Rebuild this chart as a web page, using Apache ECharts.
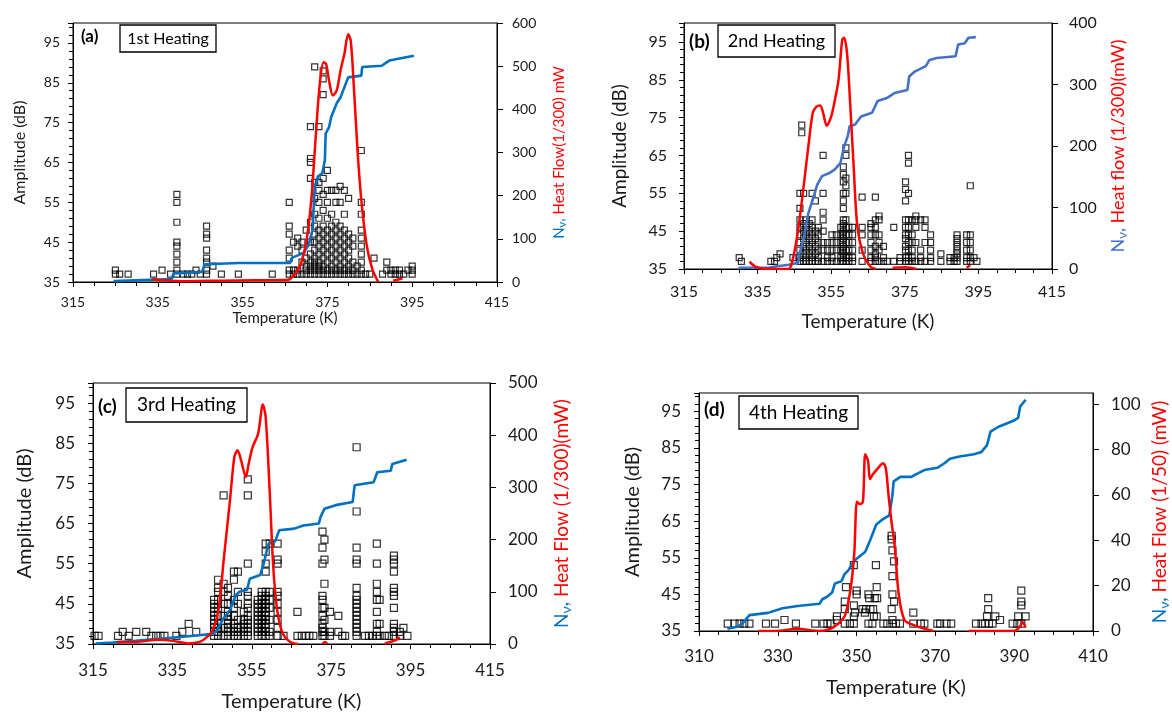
<!DOCTYPE html>
<html>
<head>
<meta charset="utf-8">
<script src="https://cdn.jsdelivr.net/npm/echarts@6/dist/echarts.min.js"></script>
<style>
  html, body { margin: 0; background: #fff; }
  #chart { width: 1172px; height: 713px; }
</style>
</head>
<body>
<div id="chart"></div>
<script>
// Scatter: [temperature, [amplitudes at that temperature]]
const scatterA = [
  [325, [37, 38]], [326, [37]], [328, [37]], [334, [37]], [336, [38]], [338, [37]],
  [339.5, [37, 38, 40, 42, 44, 45, 50, 55, 57]], [341, [37]], [342, [37]], [343, [37]], [344, [38]], [345, [37]],
  [346.5, [37, 38, 40, 41, 43, 46, 47, 49]], [348, [39]], [350, [37]], [354, [37]], [362, [37]],
  [366, [37, 38, 41, 43, 47, 49, 55]], [367, [37, 38, 45]], [368, [37, 38, 44, 46]], [369, [37, 40, 43, 45]],
  [370, [37, 38, 39, 41, 48]], [371, [37, 38, 39, 40, 42, 45, 50, 61, 65, 66, 74]],
  [372, [37, 38, 39, 40, 41, 43, 45, 47, 49, 52, 56, 60, 89]],
  [373, [37, 38, 39, 40, 42, 44, 46, 48, 51, 55, 58, 60, 74]],
  [374, [37, 38, 39, 41, 43, 45, 47, 49, 53, 57, 61, 82, 86, 88]],
  [375, [37, 38, 40, 42, 44, 46, 48, 51, 55, 58, 63]],
  [376, [37, 38, 39, 41, 43, 45, 47, 49, 52, 58]],
  [377, [37, 38, 40, 42, 44, 46, 48, 50, 55, 58]],
  [378, [37, 38, 39, 41, 43, 45, 47, 49, 55, 59]],
  [379, [37, 38, 40, 42, 44, 46, 48, 52, 58]],
  [380, [37, 38, 39, 41, 43, 45, 47, 56]], [381, [37, 38, 40, 44, 46]], [382, [37, 39]],
  [383, [37, 38, 40, 42, 44, 46, 48, 52, 55, 68]], [384, [37]], [385, [37]], [386, [41]],
  [388, [37]], [389, [38, 40]], [390, [37, 38]], [391, [37, 38]], [392, [37, 38]], [393, [37]],
  [394, [38]], [395, [37, 38, 39]]
];
const scatterB = [
  [330, [38]], [330.6, [37]], [338.6, [37]], [339.6, [37]], [340.2, [38]], [341.1, [39]], [344.6, [38]],
  [346.5, [37, 38, 40, 42, 44, 46, 48, 51, 55]], [347, [71, 73]], [347.5, [37, 39, 41, 43, 45, 47, 55]],
  [348.2, [37, 38, 40, 42, 44, 46, 48]], [349, [37, 39, 41, 43, 45, 47]], [349.8, [37, 38, 40, 42, 44, 46, 48, 55]],
  [350.7, [37, 39, 41, 43, 45, 53]], [351.5, [37, 38, 40, 42, 44, 46]], [352.8, [37, 40, 42, 45, 48, 50, 55, 65]],
  [354, [37, 38, 40, 42]], [355.2, [37, 38, 40, 42, 44]], [356.4, [37, 40, 42, 44]],
  [357.6, [37, 38, 40, 42, 44, 46]], [358.3, [37, 38, 39, 40, 41, 42, 43, 44, 45, 46, 47, 48, 51, 53, 55, 58, 60, 62]],
  [359, [37, 38, 40, 42, 44, 46, 48, 55, 57, 59, 65, 67]], [359.8, [37, 38, 40, 42, 44, 46]],
  [360.8, [37, 38, 40, 42, 44, 46]], [363.4, [37, 40, 44, 46, 54]], [365.8, [37, 38, 40, 42, 44, 46, 47]],
  [367, [37, 38, 39, 41, 44, 46, 48, 54]], [368, [37, 40, 42, 44, 48, 49]], [369.2, [37, 38, 41]], [370.2, [37]],
  [372, [37, 46]], [373.7, [37, 38]], [375.2, [37, 38, 40, 41, 43, 44, 46, 48, 53, 56, 58]],
  [376, [37, 38, 40, 42, 44, 46, 48, 55, 63, 65]], [377, [37, 38, 40, 42, 44, 48]], [378, [37, 42, 46, 48, 49]],
  [379.3, [37, 38, 40, 48]], [380.5, [37, 42, 46, 48]], [382, [37, 38, 40, 42, 44]], [384.8, [37, 39]],
  [387.3, [37, 38]], [388.4, [37, 38]], [389.2, [37, 38, 39, 40, 41, 42, 43, 44]],
  [391.8, [37, 38, 40, 42, 44]], [392.8, [37, 38, 40, 42, 44, 57]], [393.8, [38]], [394.6, [37]]
];
const scatterC = [
  [315.4, [37]], [316.4, [37]], [321.3, [37]], [322.5, [38]], [324, [37]], [325.9, [38]], [328.4, [38]],
  [329.7, [37]], [330.9, [37]], [332, [37]], [333, [37]], [336, [37]], [337.5, [38]], [339.1, [40]], [341, [38]],
  [345.5, [37, 38, 39, 40, 41, 42, 43, 44, 45, 46]], [346.5, [37, 38, 39, 40, 42, 44, 46, 48, 49, 51]],
  [347.9, [37, 39, 42, 45, 48, 50, 72]], [349, [37, 38, 39, 40, 41, 42, 43, 45, 47, 49]],
  [350.5, [37, 38, 39, 40, 42, 44, 46, 51, 53]], [351.5, [37, 38, 39, 41, 45, 48, 53]],
  [353, [37, 38, 39, 40, 41, 43]], [354, [37, 38, 39, 40, 41, 42, 44, 45, 47, 48, 55, 72, 76]],
  [356.5, [37, 38, 39, 40, 41, 42, 43, 44, 45, 46]], [357.5, [37, 38, 39, 40, 41, 42, 43, 44, 45, 46, 47, 48]],
  [358.5, [37, 38, 39, 40, 41, 42, 43, 44, 45, 46, 47, 48, 53, 55, 58, 60]], [359.5, [37, 38, 41, 44, 46, 48, 60]],
  [361.5, [37, 39, 41, 43, 45, 47, 48, 55, 56, 60]], [363, [37]], [366.5, [37, 43]], [367.6, [37]],
  [368.6, [37]], [369.5, [37]], [370.5, [37]], [372.8, [37, 38, 39, 40, 42, 44, 46, 47, 55, 59, 63]],
  [373.3, [37, 38, 41, 44, 50, 56, 61]], [374.7, [37, 38, 43]], [376.8, [38, 42]], [377.8, [37]], [378.5, [37]],
  [381.4, [37, 38, 39, 40, 41, 42, 43, 44, 45, 46, 47, 49, 55, 56, 59, 68, 84]], [383.5, [37]], [384.5, [37]],
  [385.5, [37]], [386.5, [37, 38, 40, 43, 46, 48, 50, 55, 60]], [387.2, [37, 40, 46]], [388.5, [37]], [389.5, [37]],
  [390.8, [37, 38, 39, 40, 44, 47, 48, 49, 53, 55, 56, 57]], [392.3, [37, 38]], [393.2, [39]], [394.2, [37]]
];
const scatterD = [
  [317.3, [37]], [319, [37]], [320.3, [37]], [321.5, [37]], [322.8, [37]], [327, [37]], [329.3, [37]],
  [331.7, [38]], [334.6, [37]], [339.5, [37]], [341.6, [37]], [342.6, [37]], [343.4, [37]], [345, [38, 39]],
  [347, [37, 41, 43]], [347.3, [47]], [348.3, [37]], [349.3, [37, 39, 42, 53]], [349.6, [40]], [350, [45, 46]],
  [351.5, [41]], [352.1, [40]], [352.4, [41]], [353, [37, 45]], [353.2, [44]], [353.5, [41]], [354, [37]],
  [354.2, [41]], [354.4, [39]], [354.6, [44]], [354.9, [53]], [355.1, [39, 47]], [355.2, [44]],
  [356.8, [37]], [357.8, [37]], [358.9, [41, 60, 61]], [359.1, [37, 38, 45, 50, 57]], [359.5, [43, 54]],
  [360, [37]], [361, [37]], [364.4, [37, 40]], [366.3, [37]], [367.2, [37]], [370.5, [37]], [371.2, [37]],
  [372.8, [37]], [374, [37]], [380.3, [37]], [381.7, [37]], [382.6, [37]], [383.1, [39]], [383.4, [41, 44]],
  [383.6, [37]], [384.5, [37]], [385.2, [39]], [386.4, [38]], [389.6, [37]], [390.8, [37]], [391, [39]],
  [391.8, [37, 42, 43, 46]], [392.9, [39]]
];

// N_v (blue) and heat flow (red), on the right axis: [temperature, value]
const blueA = [[324.6, 2], [338.3, 7], [338.7, 20], [345.4, 23], [346.1, 41], [354.2, 44], [366.2, 44], [366.6, 56],
  [369.3, 67], [370.6, 87], [371.5, 121], [372.0, 222], [372.8, 245], [373.8, 252], [374.4, 282], [374.6, 344],
  [375.4, 359], [375.9, 382], [377.2, 414], [378.1, 428], [379.9, 474], [383.0, 478], [383.2, 498], [387.8, 501],
  [389.6, 513], [395.4, 524]];
const redA = [[333.7, 7], [336, 4], [341.8, 2], [350, 3], [358, 4], [365.7, 5], [367.5, 21], [368.8, 44], [370.1, 98],
  [371.2, 190], [372.3, 344], [373.2, 459], [374.1, 509], [374.7, 505], [375.4, 466], [376.3, 432], [377.2, 444],
  [378.1, 490], [379.0, 528], [379.9, 574], [380.5, 559], [381.2, 459], [382.1, 306], [383.0, 190], [384.3, 83],
  [385.6, 30], [387.0, 0], [387.5, null], [390.5, 3], [392.7, 8]];
const blueB = [[329.8, 2], [337.9, 2], [339.9, 4], [343.4, 7], [346, 10], [346.4, 26], [347.5, 48], [348.8, 91],
  [350, 113], [351.2, 137], [352.5, 151], [354.5, 156], [356, 162], [357.5, 172], [358.5, 199], [359.5, 216],
  [360, 232], [361.5, 235], [363.1, 248], [366.1, 254], [367.6, 273], [370.1, 278], [372.2, 286], [375.7, 291],
  [376.2, 313], [377.7, 321], [380.7, 330], [381.7, 340], [383.7, 343], [388.8, 346], [389.5, 365], [391.3, 367],
  [392.3, 376], [394.3, 377]];
const redB = [[332.8, 12], [334.4, 4], [337.4, 0], [343.4, 0], [344.4, 12], [345.9, 59], [347.5, 134], [349, 210],
  [350, 254], [351, 264], [352, 266], [352.8, 254], [353.8, 233], [355, 248], [356, 275], [357, 308], [358, 373],
  [358.5, 376], [359.3, 351], [360.1, 275], [361.1, 167], [362.1, 69], [363.6, 26], [365.6, 4], [367.1, 0],
  [368, null], [371.7, 2], [375.2, 3], [378.2, 0], [379, null], [391.8, 2], [392.8, 6]];
const blueC = [[315.7, 1], [320, 3], [325.7, 6], [333.3, 11], [339, 15], [344.7, 19], [346.1, 24], [347.6, 46],
  [349.5, 65], [351, 94], [351.9, 100], [353.8, 104], [354.5, 125], [357.1, 132], [358, 154], [358.8, 180],
  [359.2, 192], [360.9, 197], [361.9, 218], [365.7, 221], [368, 227], [371.9, 231], [372.3, 243], [373.3, 259],
  [376.1, 266], [380.4, 272], [380.9, 304], [385.7, 310], [386.6, 329], [390, 332], [390.4, 345], [394, 353]];
const redC = [[321.1, 4], [325.7, 4], [331.4, 8], [335.2, 6], [339, 1], [341.9, 4], [343.8, 14], [345.2, 27],
  [346.6, 65], [348, 167], [349.5, 275], [350.6, 358], [351.4, 371], [352.3, 352], [353.5, 320], [354.2, 345],
  [355.2, 377], [356.6, 403], [357.8, 459], [358.5, 434], [359.5, 294], [360.4, 148], [361.4, 65], [362.8, 20],
  [364.7, 4], [366.6, 0], [367, null], [372.8, 1], [373.5, 4], [374, 0], [374.5, null], [388.5, 1], [391.4, 8],
  [392.3, 13]];
const blueD = [[317.2, 1], [320, 2], [321.4, 4], [322.8, 7], [327.5, 8], [331.2, 10], [335, 11], [340.6, 12],
  [341.3, 14], [342.4, 15], [343.8, 17], [344.5, 21], [346.2, 22], [346.9, 25], [348, 27], [349.4, 31], [350.8, 33],
  [352.2, 35], [353.2, 39], [354.1, 43], [355, 47], [356.4, 49], [358.3, 51], [359.1, 60], [359.4, 66], [361.1, 68],
  [363.9, 68], [364.9, 69], [367.2, 71], [370.5, 72], [372.3, 74], [373.7, 76], [376.1, 77], [379.8, 78],
  [381.7, 79], [383.1, 82], [384, 88], [385.9, 90], [390.1, 93], [391, 94], [391.5, 99], [392.9, 102]];
const redD = [[325.1, 0], [329.3, 0], [335, 1], [340.6, 0], [343.4, 1], [345.2, 3], [347.1, 7], [348.5, 19],
  [349.4, 34], [350.1, 57], [350.8, 56], [351.6, 57], [352.2, 78], [352.9, 75], [353.4, 67], [354.1, 69],
  [355.5, 72], [356.7, 74], [357.4, 72], [358.1, 60], [358.8, 49], [359.7, 37], [360.7, 16], [362.1, 5],
  [363.9, 3], [366.3, 1.5], [369.5, 0], [370, null], [378.4, 0], [385, 0], [390, 0], [391.5, 2], [391.8, 3],
  [392.1, 4], [392.9, 1.5]];

const tags = ['(a)', '(b)', '(c)', '(d)'];
const heatings = ['1st Heating', '2nd Heating', '3rd Heating', '4th Heating'];
const heatNames = ['Heat Flow(1/300) mW', 'Heat flow (1/300)(mW)', 'Heat Flow (1/300)(mW)', 'Heat Flow (1/50) (mW)'];
const xMins = [315, 315, 315, 310];
const rightMax = [600, 400, 500, 105];
const rightStep = [100, 100, 100, 20];

const FONT = 'Lato, "Open Sans", sans-serif';
const BLUE = '#0070C0';
const RED = '#FF0000';

// layout of each panel
const layout = [
  { grid: { left: 73, top: 23, width: 424, height: 259 }, tickFs: 14, nameFs: 16, rFs: 15, xFs: 15,
    xMargin: 13, yMargin: 13, rMargin: 15, xGap: 29, yGap: 45, rGap: 53, sym: 6, blue: BLUE,
    tag: [81, 37, 17], box: [120, 25, 96, 27, 16] },
  { grid: { left: 684, top: 23, width: 368, height: 246 }, tickFs: 16, nameFs: 19, rFs: 18, xFs: 19,
    xMargin: 15, yMargin: 17, rMargin: 17, xGap: 43, yGap: 55, rGap: 56, sym: 6, blue: '#4472C4',
    tag: [689, 42, 19], box: [718, 25, 117, 32, 18] },
  { grid: { left: 93, top: 383, width: 397, height: 261 }, tickFs: 17, nameFs: 20, rFs: 19, xFs: 20,
    xMargin: 18, yMargin: 18, rMargin: 18, xGap: 48, yGap: 58, rGap: 60, sym: 7, blue: BLUE,
    tag: [98, 407, 19], box: [126, 388, 121, 34, 19] },
  { grid: { left: 699, top: 393, width: 395, height: 238 }, tickFs: 17, nameFs: 20, rFs: 19, xFs: 20,
    xMargin: 17, yMargin: 18, rMargin: 18, xGap: 47, yGap: 56, rGap: 55, sym: 7, blue: BLUE,
    tag: [704, 410, 19], box: [739, 396, 119, 33, 19] }
];

const scatters = [scatterA, scatterB, scatterC, scatterD];
const blues = [blueA, blueB, blueC, blueD];
const reds = [redA, redB, redC, redD];

const axisLine = { show: true, onZero: false, lineStyle: { color: '#000', width: 1 } };
const labelColor = '#1a1a1a';

const grids = [], xAxes = [], yAxes = [], series = [], graphics = [];

layout.forEach((L, i) => {
  grids.push(Object.assign({ show: true, borderColor: '#000', borderWidth: 1, containLabel: false }, L.grid));

  xAxes.push({
    type: 'value', gridIndex: i, min: xMins[i], max: xMins[i] + 100, interval: 20,
    name: 'Temperature (K)', nameLocation: 'middle', nameGap: L.xGap,
    nameTextStyle: { fontFamily: FONT, fontSize: L.xFs, color: labelColor },
    axisLine: axisLine,
    axisTick: { show: true, inside: false, length: 5, lineStyle: { color: '#000' } },
    minorTick: { show: true, splitNumber: 4, length: 4, lineStyle: { color: '#000' } },
    splitLine: { show: false },
    axisLabel: { fontFamily: FONT, fontSize: L.tickFs, color: labelColor, margin: L.xMargin }
  });

  yAxes.push({
    type: 'value', gridIndex: i, position: 'left', min: 35, max: 100, interval: 10,
    name: 'Amplitude (dB)', nameLocation: 'middle', nameGap: L.yGap,
    nameTextStyle: { fontFamily: FONT, fontSize: L.nameFs, color: labelColor },
    axisLine: axisLine,
    axisTick: { show: true, inside: false, length: 5, lineStyle: { color: '#000' } },
    minorTick: { show: true, splitNumber: 5, length: 4, lineStyle: { color: '#000' } },
    splitLine: { show: false },
    axisLabel: { fontFamily: FONT, fontSize: L.tickFs, color: labelColor, margin: L.yMargin, showMaxLabel: false }
  });

  const sub = Math.round(L.rFs * 0.72);
  yAxes.push({
    type: 'value', gridIndex: i, position: 'right', min: 0, max: rightMax[i], interval: rightStep[i],
    name: '{n|N}{s|ν}{n|, }{h|' + heatNames[i] + '}', nameLocation: 'middle', nameGap: L.rGap, nameRotate: 90,
    nameTextStyle: {
      fontFamily: FONT, fontSize: L.rFs,
      rich: {
        n: { color: L.blue, fontFamily: FONT, fontSize: L.rFs },
        s: { color: L.blue, fontFamily: FONT, fontSize: sub, padding: [Math.round(L.rFs * 0.45), 0, 0, 0] },
        h: { color: RED, fontFamily: FONT, fontSize: L.rFs }
      }
    },
    axisLine: axisLine,
    axisTick: { show: true, inside: false, length: 6, lineStyle: { color: '#000' } },
    splitLine: { show: false },
    axisLabel: { fontFamily: FONT, fontSize: L.tickFs, color: labelColor, margin: L.rMargin,
      showMaxLabel: rightMax[i] % rightStep[i] === 0 }
  });

  const pts = [];
  scatters[i].forEach(([t, amps]) => amps.forEach(a => pts.push([t, a])));

  series.push({
    type: 'scatter', xAxisIndex: i, yAxisIndex: 2 * i, data: pts,
    symbol: 'rect', symbolSize: L.sym,
    itemStyle: { color: 'rgba(255,255,255,0)', borderColor: '#000', borderWidth: 1.2 },
    z: 2
  });
  series.push({
    type: 'line', xAxisIndex: i, yAxisIndex: 2 * i + 1, data: blues[i],
    showSymbol: false, smooth: false,
    lineStyle: { color: L.blue, width: 2.6 }, z: 3
  });
  series.push({
    type: 'line', xAxisIndex: i, yAxisIndex: 2 * i + 1, data: reds[i],
    showSymbol: false, smooth: 0.3, connectNulls: false,
    lineStyle: { color: RED, width: 2.5 }, z: 4
  });

  const [tx, ty, tfs] = L.tag;
  graphics.push({
    type: 'text', x: tx, y: ty, z: 10,
    style: { text: tags[i], fontFamily: FONT, fontSize: tfs, fontWeight: 'bold', fill: '#000',
      textAlign: 'left', textVerticalAlign: 'middle' }
  });
  const [bx, by, bw, bh, bfs] = L.box;
  graphics.push({
    type: 'rect', z: 10,
    shape: { x: bx, y: by, width: bw, height: bh },
    style: { fill: '#fff', stroke: '#000', lineWidth: 1.3 }
  });
  graphics.push({
    type: 'text', x: bx + bw / 2, y: by + bh / 2, z: 11,
    style: { text: heatings[i], fontFamily: FONT, fontSize: bfs, fill: '#000',
      textAlign: 'center', textVerticalAlign: 'middle' }
  });
});

const chart = echarts.init(document.getElementById('chart'));
chart.setOption({
  animation: false,
  backgroundColor: '#fff',
  grid: grids,
  xAxis: xAxes,
  yAxis: yAxes,
  series: series,
  graphic: graphics
});
</script>
</body>
</html>
